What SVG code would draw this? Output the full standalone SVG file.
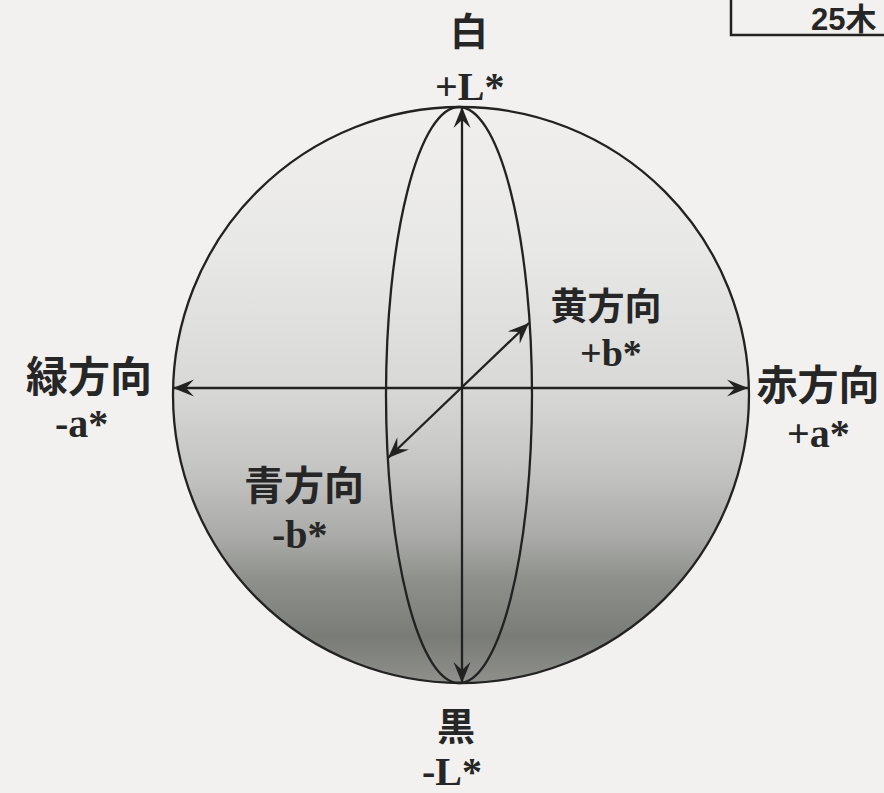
<svg xmlns="http://www.w3.org/2000/svg" width="884" height="793" viewBox="0 0 884 793">
<style>
.ln{stroke:#222;stroke-width:2.3;fill:none}
.jp{font-family:"Noto Sans CJK JP","Noto Sans",sans-serif;font-weight:bold;fill:#262626}
.lat{font-family:"Liberation Serif","Times New Roman",serif;font-weight:bold;fill:#262626}
</style>
<defs>
<linearGradient id="sph" gradientUnits="userSpaceOnUse" x1="0" y1="107" x2="0" y2="683">
<stop offset="0" stop-color="#f0efee"/>
<stop offset="0.25" stop-color="#e8e8e7"/>
<stop offset="0.49" stop-color="#d8d8d6"/>
<stop offset="0.63" stop-color="#c4c4c2"/>
<stop offset="0.75" stop-color="#a9aaa7"/>
<stop offset="0.82" stop-color="#8e908b"/>
<stop offset="0.92" stop-color="#7a7c77"/>
<stop offset="1" stop-color="#8f908c"/>
</linearGradient>
<marker id="ah" viewBox="-22 -10 23 20" refX="0" refY="0" markerWidth="23" markerHeight="20" markerUnits="userSpaceOnUse" orient="auto-start-reverse">
<path d="M0,0 L-21,-8.5 L-13,0 L-21,8.5 Z" fill="#222"/>
</marker>
</defs>
<rect width="884" height="793" fill="#f3f1ef"/>
<g id="tag">
<path d="M731,0 V35 H884" fill="none" stroke="#222" stroke-width="2.5"/>
<text x="811" y="30" font-family="Liberation Sans, Arial, sans-serif" font-weight="bold" font-size="31" fill="#262626">25<tspan font-family="Noto Sans CJK JP, sans-serif">木</tspan></text>
</g>
<g id="sphere">
<circle cx="461" cy="395" r="288" fill="url(#sph)" stroke="#222" stroke-width="2.3"/>
<ellipse cx="459" cy="395" rx="73" ry="288" class="ln"/>
</g>
<g id="connectors">
<line x1="462" y1="683" x2="462" y2="107" class="ln" marker-start="url(#ah)" marker-end="url(#ah)"/>
<line x1="173" y1="388" x2="748" y2="388" class="ln" marker-start="url(#ah)" marker-end="url(#ah)"/>
<line x1="388" y1="458" x2="529" y2="323" class="ln" marker-start="url(#ah)" marker-end="url(#ah)"/>
</g>
<g id="white">
<text x="469" y="45" class="jp" font-size="38" text-anchor="middle">白</text>
<text x="435" y="100" class="lat" font-size="40">+L*</text>
</g>
<g id="black">
<text x="456" y="740" class="jp" font-size="38" text-anchor="middle">黒</text>
<text x="422" y="785" class="lat" font-size="40">-L*</text>
</g>
<g id="green">
<text x="89" y="392" class="jp" font-size="42" text-anchor="middle">緑方向</text>
<text x="55" y="437" class="lat" font-size="40">-a*</text>
</g>
<g id="red">
<text x="818" y="400" class="jp" font-size="41" text-anchor="middle">赤方向</text>
<text x="787" y="447" class="lat" font-size="40">+a*</text>
</g>
<g id="yellow">
<text x="606" y="320" class="jp" font-size="37" text-anchor="middle">黄方向</text>
<text x="580" y="366" class="lat" font-size="38">+b*</text>
</g>
<g id="blue">
<text x="304" y="500" class="jp" font-size="40" text-anchor="middle">青方向</text>
<text x="272" y="548" class="lat" font-size="40">-b*</text>
</g>
</svg>
